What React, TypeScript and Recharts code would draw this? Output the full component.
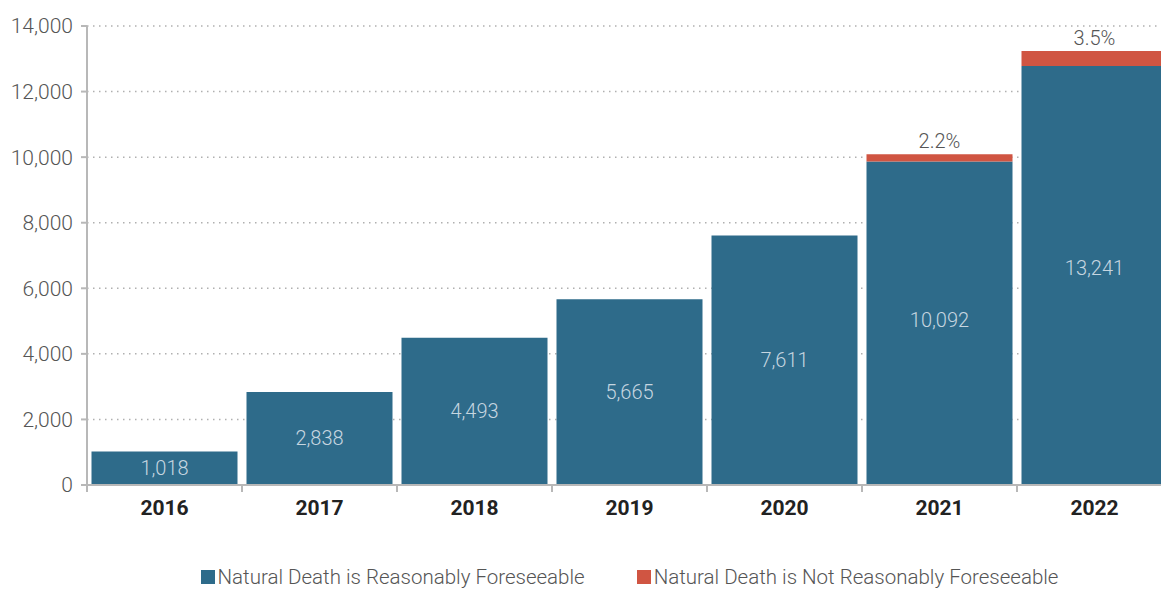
import { Bar, BarChart, CartesianGrid, LabelList, Legend, XAxis, YAxis } from "recharts";

const years = ["2016", "2017", "2018", "2019", "2020", "2021", "2022"];
const totals = [1018, 2838, 4493, 5665, 7611, 10092, 13241];
const reasonable = [1018, 2838, 4493, 5665, 7611, 9870, 12778];
const notReasonable = [0, 0, 0, 0, 0, 222, 463];
const notReasonablePct = ["", "", "", "", "", "2.2%", "3.5%"];
const yTicks = [0, 2000, 4000, 6000, 8000, 10000, 12000, 14000];

const BLUE = "#2e6b8a";
const RED = "#d05542";
const AXIS = "#b8b8b8";
const FONT = "Roboto, 'Liberation Sans', sans-serif";

const CHART_W = 1164;
const CHART_H = 587;
const Y_W = 79;
const BAND = (CHART_W - Y_W) / years.length;

const data = years.map((year, i) => ({
  year,
  reasonable: reasonable[i],
  notReasonable: notReasonable[i],
}));

function YearTick(props: any) {
  const { x, y, payload } = props;
  const left = Number(x) - BAND / 2;
  return (
    <g>
      <line x1={left} x2={left} y1={y} y2={y + 7} stroke={AXIS} strokeWidth={2} />
      <text
        x={x}
        y={y + 30}
        textAnchor="middle"
        fontFamily={FONT}
        fontWeight={700}
        fontSize={21}
        fill="#222"
      >
        {payload.value}
      </text>
    </g>
  );
}

// total centred in the whole stack, share label above the red segment
function StackLabel(props: any) {
  const x = Number(props.x);
  const y = Number(props.y);
  const width = Number(props.width);
  const height = Number(props.height);
  const i = props.index;
  const totalH = (totals[i] * height) / reasonable[i];
  const top = y + height - totalH;
  const cy = y + height - totalH / 2;
  return (
    <g>
      <text
        x={x + width / 2}
        y={cy}
        textAnchor="middle"
        dominantBaseline="central"
        fontFamily={FONT}
        fontWeight={300}
        fontSize={20}
        fill="#c6d6e0"
      >
        {totals[i].toLocaleString("en-US")}
      </text>
      {notReasonablePct[i] && (
        <text
          x={x + width / 2}
          y={top - 6}
          textAnchor="middle"
          fontFamily={FONT}
          fontWeight={300}
          fontSize={20}
          fill="#555"
        >
          {notReasonablePct[i]}
        </text>
      )}
    </g>
  );
}

function LegendBox() {
  const items = [
    { label: "Natural Death is Reasonably Foreseeable", color: BLUE },
    { label: "Natural Death is Not Reasonably Foreseeable", color: RED },
  ];
  return (
    <div
      style={{
        width: CHART_W,
        height: 50,
        paddingLeft: Y_W,
        paddingTop: 20,
        boxSizing: "border-box",
        display: "flex",
        justifyContent: "center",
        gap: 52,
        fontFamily: FONT,
        fontWeight: 300,
        fontSize: 20.5,
        color: "#555",
      }}
    >
      {items.map((it) => (
        <div key={it.label} style={{ display: "flex", alignItems: "center", height: 24 }}>
          <span
            style={{ width: 14, height: 14, background: it.color, marginRight: 3, display: "inline-block" }}
          />
          {it.label}
        </div>
      ))}
    </div>
  );
}

export default function App() {
  return (
    <div
      style={{
        position: "fixed",
        left: 0,
        top: 0,
        width: 1161,
        height: 589,
        overflow: "hidden",
        background: "#fff",
      }}
    >
      <div style={{ position: "absolute", left: 8, top: 8 }}>
        <BarChart
          width={CHART_W}
          height={CHART_H}
          data={data}
          margin={{ top: 18, right: 0, bottom: 0, left: 0 }}
          barCategoryGap={4.5}
        >
          <CartesianGrid
            vertical={false}
            stroke="#b0b0b0"
            strokeDasharray="1.5 4.5"
            strokeWidth={1.5}
          />
          <XAxis
            dataKey="year"
            height={60}
            axisLine={{ stroke: AXIS, strokeWidth: 2 }}
            tickLine={false}
            tickSize={0}
            tickMargin={0}
            tick={<YearTick />}
            interval={0}
          />
          <YAxis
            width={Y_W}
            domain={[0, 14000]}
            ticks={yTicks}
            interval={0}
            axisLine={{ stroke: AXIS, strokeWidth: 2 }}
            tickLine={{ stroke: AXIS, strokeWidth: 2 }}
            tickSize={6}
            tickMargin={8}
            tickFormatter={(v: number) => v.toLocaleString("en-US")}
            tick={{ fontFamily: FONT, fontWeight: 300, fontSize: 21, fill: "#555" }}
          />
          <Legend verticalAlign="bottom" height={50} content={() => <LegendBox />} />
          <Bar dataKey="reasonable" stackId="a" fill={BLUE} isAnimationActive={false}>
            <LabelList dataKey="reasonable" content={<StackLabel />} />
          </Bar>
          <Bar dataKey="notReasonable" stackId="a" fill={RED} isAnimationActive={false} />
        </BarChart>
      </div>
    </div>
  );
}
